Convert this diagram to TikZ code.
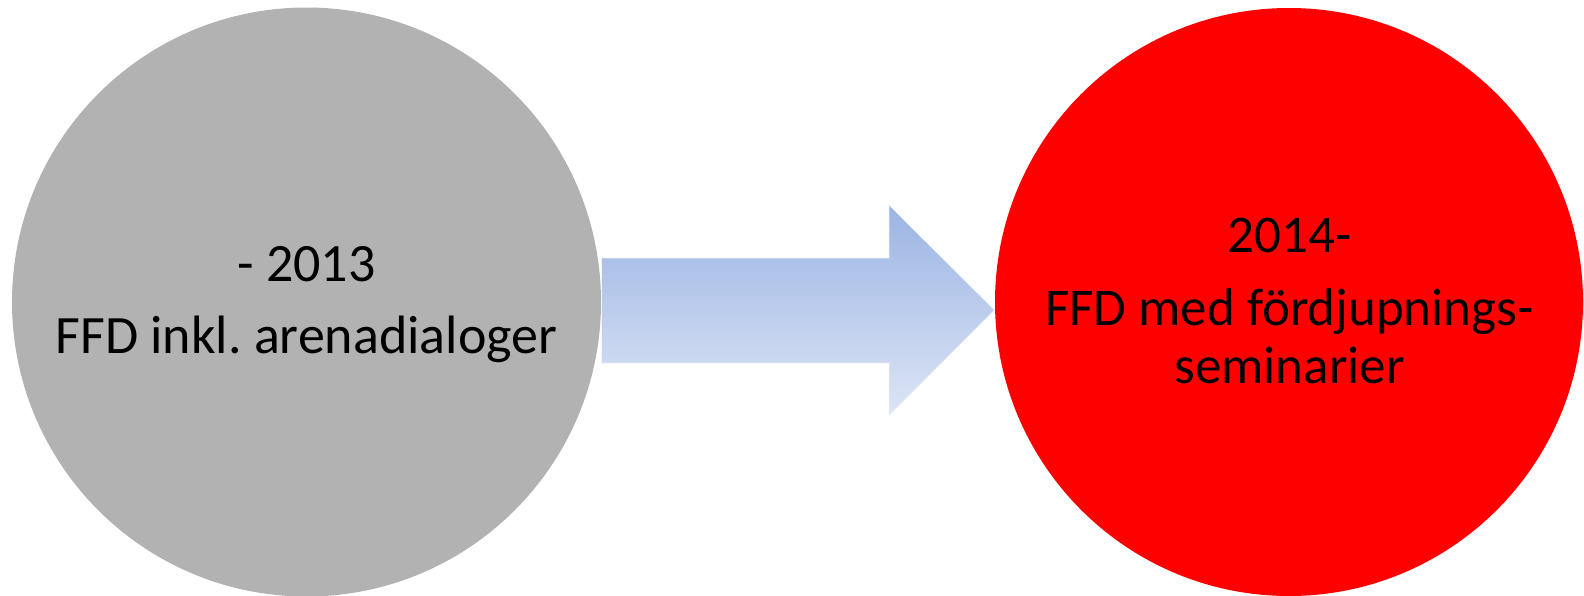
\documentclass[tikz,border=0pt]{standalone}
\usepackage{fontspec}
\setmainfont{Carlito}
\frenchspacing
\definecolor{grayfill}{RGB}{178,178,178}
\definecolor{arrowtop}{RGB}{155,180,227}
\definecolor{arrowbot}{RGB}{221,229,245}
\begin{document}
\begin{tikzpicture}[x=1pt,y=-1pt,
  phase/.style={circle,inner sep=0pt,minimum size=#1},
  lbl/.style={anchor=base,inner sep=0pt,text=black},
  glbl/.style={lbl,font=\fontsize{54}{58}\selectfont},
  rlbl/.style={lbl,font=\fontsize{53}{58}\selectfont}]
\useasboundingbox (0,0) rectangle (1584,595);
\clip (0,0) rectangle (1584,595);
\node[phase=589pt,fill=grayfill] (gray) at (306.5,302) {};
\node[phase=588pt,fill=red] (red) at (1289,302) {};
\path[top color=arrowtop,bottom color=arrowbot,draw=white!85!arrowtop,line width=0.6pt]
  (601.5,258) -- (889,258) -- (889,205) -- (994.5,310) -- (889,415.5) -- (889,363) -- (601.5,363) -- cycle;
\node[glbl] (g1) at (306.5,281.5) {- 2013};
\node[glbl] (g2) at (306.5,353) {FFD inkl. arenadialoger};
\node[rlbl] (r1) at (1289.5,252.5) {2014-};
\node[rlbl] (r2) at (1289.5,325.5) {FFD med fördjupnings-};
\node[rlbl] (r3) at (1289.5,383) {seminarier};
\end{tikzpicture}
\end{document}
